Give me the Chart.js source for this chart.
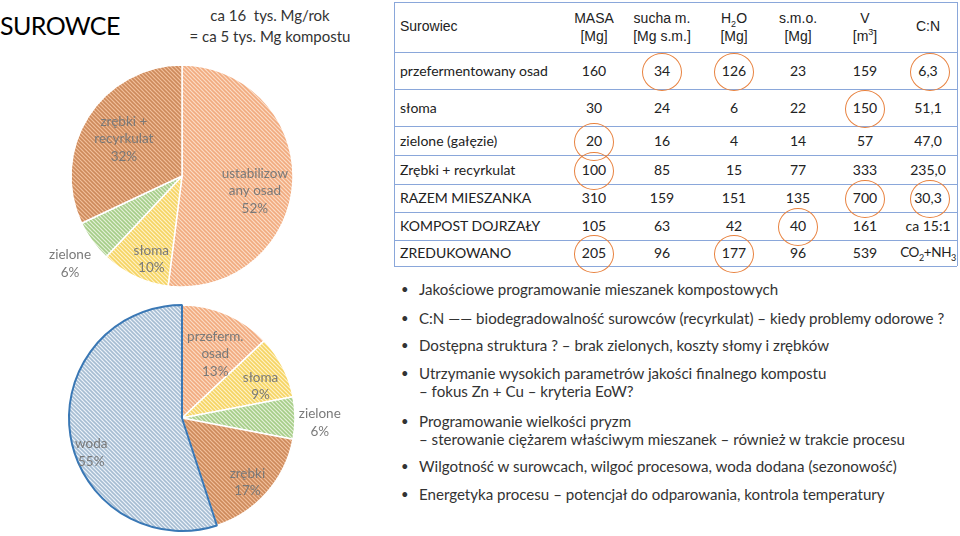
<!DOCTYPE html>
<html>
<head>
<meta charset="utf-8">
<script src="https://cdn.jsdelivr.net/npm/chart.js@4"></script>
<style>
  html, body { margin: 0; padding: 0; background: #fff; }
  body { width: 960px; height: 536px; position: relative; overflow: hidden; font-family: Lato, 'Open Sans', sans-serif; }
  .abs { position: absolute; }
  #title { left: 0; top: 10px; font-size: 25px; color: #000; letter-spacing: -0.6px; }
  #sub { left: 180px; width: 180px; top: 5px; text-align: center; font-size: 15px; line-height: 21px; color: #333; }
  canvas { position: absolute; }
  .hd { font-family: 'Liberation Sans', Arial, sans-serif; font-size: 14px; color: #222; text-align: center; line-height: 18px; }
  .hd sub, .hd sup, .cell sub { font-size: 9px; line-height: 0; }
  .cell { font-size: 14px; color: #222; text-align: center; }
  .lbl { font-size: 14px; color: #222; }
  .hline { position: absolute; height: 0; border-top: 1.5px solid #8aa7da; }
  .vline { position: absolute; width: 0; border-left: 1.5px solid #8aa7da; }
  .ring { position: absolute; border: 1.5px solid #e8823f; border-radius: 50%; box-sizing: border-box; }
  .bul { position: absolute; left: 400px; font-size: 15.1px; color: #333; line-height: 18px; }
  .bul .dot { position: absolute; left: 1px; font-size: 13px; }
  .bul .tx { position: absolute; left: 19px; white-space: nowrap; }
</style>
</head>
<body>
<div id="title" class="abs">SUROWCE</div>
<div id="sub" class="abs">ca 16&nbsp; tys. Mg/rok<br>= ca 5 tys. Mg kompostu</div>

<canvas id="pieTop" style="left:0;top:50px;width:380px;height:250px" width="380" height="250"></canvas>
<canvas id="pieBottom" style="left:0;top:300px;width:380px;height:236px" width="380" height="236"></canvas>

<div id="table"></div>
<div id="bullets"></div>

<script>
// ---- data: top pie (mieszanka, masa) ----
const topLabels = [['ustabilizow', 'any osad'], ['słoma'], ['zielone'], ['zrębki +', 'recyrkulat']];
const topValues = [52, 10, 6, 32];

// ---- data: bottom pie (skład z wodą) ----
const bottomLabels = [['przeferm.', 'osad'], ['słoma'], ['zielone'], ['zrębki'], ['woda']];
const bottomValues = [13, 9, 6, 17, 55];

// ---- data: table ----
const headCols = [['MASA', '[Mg]'], ['sucha m.', '[Mg s.m.]'], ['H<sub>2</sub>O', '[Mg]'], ['s.m.o.', '[Mg]'], ['V', '[m<sup>3</sup>]'], ['C:N']];
const rowNames = ['przefermentowany osad', 'słoma', 'zielone (gałęzie)', 'Zrębki + recyrkulat', 'RAZEM MIESZANKA', 'KOMPOST DOJRZAŁY', 'ZREDUKOWANO'];
const masa  = ['160', '30', '20', '100', '310', '105', '205'];
const sucha = ['34', '24', '16', '85', '159', '63', '96'];
const h2o   = ['126', '6', '4', '15', '151', '42', '177'];
const smo   = ['23', '22', '14', '77', '135', '40', '96'];
const vol   = ['159', '150', '57', '333', '700', '161', '539'];
const cn    = ['6,3', '51,1', '47,0', '235,0', '30,3', 'ca 15:1', 'CO<sub>2</sub>+NH<sub>3</sub>'];
// circled cells [row, column]
const circled = [[0, 1], [0, 2], [0, 5], [1, 4], [2, 0], [3, 0], [4, 4], [4, 5], [5, 3], [6, 0], [6, 2]];

const bullets = [
  ['Jakościowe programowanie mieszanek kompostowych'],
  ['C:N —— biodegradowalność surowców (recyrkulat) – kiedy problemy odorowe ?'],
  ['Dostępna struktura ? – brak zielonych, koszty słomy i zrębków'],
  ['Utrzymanie wysokich parametrów jakości finalnego kompostu', '– fokus Zn + Cu – kryteria EoW?'],
  ['Programowanie wielkości pryzm', '– sterowanie ciężarem właściwym mieszanek – również w trakcie procesu'],
  ['Wilgotność w surowcach, wilgoć procesowa, woda dodana (sezonowość)'],
  ['Energetyka procesu – potencjał do odparowania, kontrola temperatury']
];

// ---- hatch patterns ----
function hatch(bg, fg) {
  const c = document.createElement('canvas');
  c.width = 4; c.height = 4;
  const x = c.getContext('2d');
  x.fillStyle = bg; x.fillRect(0, 0, 4, 4);
  x.strokeStyle = fg; x.lineWidth = 1.6;
  for (let k = -1; k <= 1; k++) {
    x.beginPath(); x.moveTo(-1, 4 * k - 1); x.lineTo(5, 4 * k + 5); x.stroke();
  }
  return x.createPattern(c, 'repeat');
}
const pOsad = hatch('#fbdcc6', '#f1ab7f');
const pSloma = hatch('#fff2c8', '#f5d463');
const pZiel = hatch('#e4f0d9', '#a6cd88');
const pZreb = hatch('#f1c09c', '#cd8a5b');
const pWoda = hatch('#edf3f9', '#a6bdd2');

// label plugin: text placed along each arc's mid angle
const arcLabels = {
  id: 'arcLabels',
  afterDatasetsDraw(chart, args, opts) {
    const { ctx } = chart;
    const meta = chart.getDatasetMeta(0);
    const vals = chart.data.datasets[0].data;
    ctx.save();
    ctx.font = '13.5px Lato, sans-serif';
    ctx.fillStyle = '#7a7a7a';
    ctx.textAlign = 'center';
    ctx.textBaseline = 'middle';
    meta.data.forEach((arc, i) => {
      const p = arc.getProps(['x', 'y', 'startAngle', 'endAngle', 'outerRadius'], true);
      const [f, shift] = opts.place[i];
      const a = (p.startAngle + p.endAngle) / 2 + shift * Math.PI / 180;
      const cx = p.x + Math.cos(a) * p.outerRadius * f;
      const cy = p.y + Math.sin(a) * p.outerRadius * f;
      const lines = chart.data.labels[i].concat([vals[i] + '%']);
      const lh = 17.5;
      lines.forEach((t, j) => ctx.fillText(t, cx, cy + (j - (lines.length - 1) / 2) * lh));
    });
    ctx.restore();
  }
};

function pie(id, labels, values, bgs, borders, widths, place, radius, pad) {
  return new Chart(document.getElementById(id), {
    type: 'pie',
    data: { labels, datasets: [{ data: values, backgroundColor: bgs, borderColor: borders, borderWidth: widths }] },
    options: {
      responsive: false, animation: false, radius,
      layout: { padding: pad },
      events: [],
      plugins: { legend: { display: false }, tooltip: { enabled: false }, arcLabels: { place } }
    },
    plugins: [arcLabels]
  });
}

pie('pieTop', topLabels, topValues,
  [pOsad, pSloma, pZiel, pZreb],
  '#ffffff', 1.5,
  [[0.67, 8], [0.8, -5], [1.28, -2], [0.62, 0]],
  111, { left: 0, right: 16, top: 2, bottom: 0 });

pie('pieBottom', bottomLabels, bottomValues,
  [pOsad, pSloma, pZiel, pZreb, pWoda],
  ['#ffffff', '#ffffff', '#ffffff', '#ffffff', '#3a78b5'], [1.5, 1.5, 1.5, 1.5, 2],
  [[0.64, 4], [0.75, 5], [1.22, 2], [0.81, 3], [0.86, -12]],
  113, { left: 0, right: 16, top: 0, bottom: 0 });

// ---- table ----
const colX = [594, 662, 734, 798, 865, 928];
const rowLines = [2, 52, 89, 126, 155, 184, 212, 240, 266];
const tLeft = 394, tRight = 957;
let html = '';
rowLines.forEach(y => { html += `<div class="hline" style="left:${tLeft}px;width:${tRight - tLeft}px;top:${y}px"></div>`; });
html += `<div class="vline" style="left:${tLeft}px;top:2px;height:264px"></div>`;
html += `<div class="vline" style="left:${tRight}px;top:2px;height:264px"></div>`;
html += `<div class="abs hd" style="left:400px;top:17px;text-align:left">Surowiec</div>`;
headCols.forEach((h, c) => {
  const top = h.length === 1 ? 17 : 9;
  html += `<div class="abs hd" style="left:${colX[c] - 50}px;width:100px;top:${top}px">${h.join('<br>')}</div>`;
});
const cols = [masa, sucha, h2o, smo, vol, cn];
rowNames.forEach((name, r) => {
  const yc = (rowLines[r + 1] + rowLines[r + 2]) / 2;
  html += `<div class="abs lbl" style="left:400px;top:${yc - 9}px">${name}</div>`;
  cols.forEach((col, c) => {
    const sq = (c === 5 && r === 6) ? 'letter-spacing:-0.4px;font-size:13.5px;' : '';
    html += `<div class="abs cell" style="${sq}left:${colX[c] - 50}px;width:100px;top:${yc - 9}px">${col[r]}</div>`;
  });
});
circled.forEach(([r, c]) => {
  const yc = (rowLines[r + 1] + rowLines[r + 2]) / 2 + 1;
  const cx = c === 5 ? colX[c] + 2 : colX[c];
  html += `<div class="ring" style="left:${cx - 20}px;top:${yc - 19}px;width:40px;height:38px"></div>`;
});
document.getElementById('table').innerHTML = html;

// ---- bullets ----
const bulletTops = [280, 309, 336, 364, 412, 457, 485];
let bh = '';
bullets.forEach((b, i) => {
  bh += `<div class="bul" style="top:${bulletTops[i]}px"><span class="dot">•</span><span class="tx">${b.join('<br>')}</span></div>`;
});
document.getElementById('bullets').innerHTML = bh;
</script>
</body>
</html>
